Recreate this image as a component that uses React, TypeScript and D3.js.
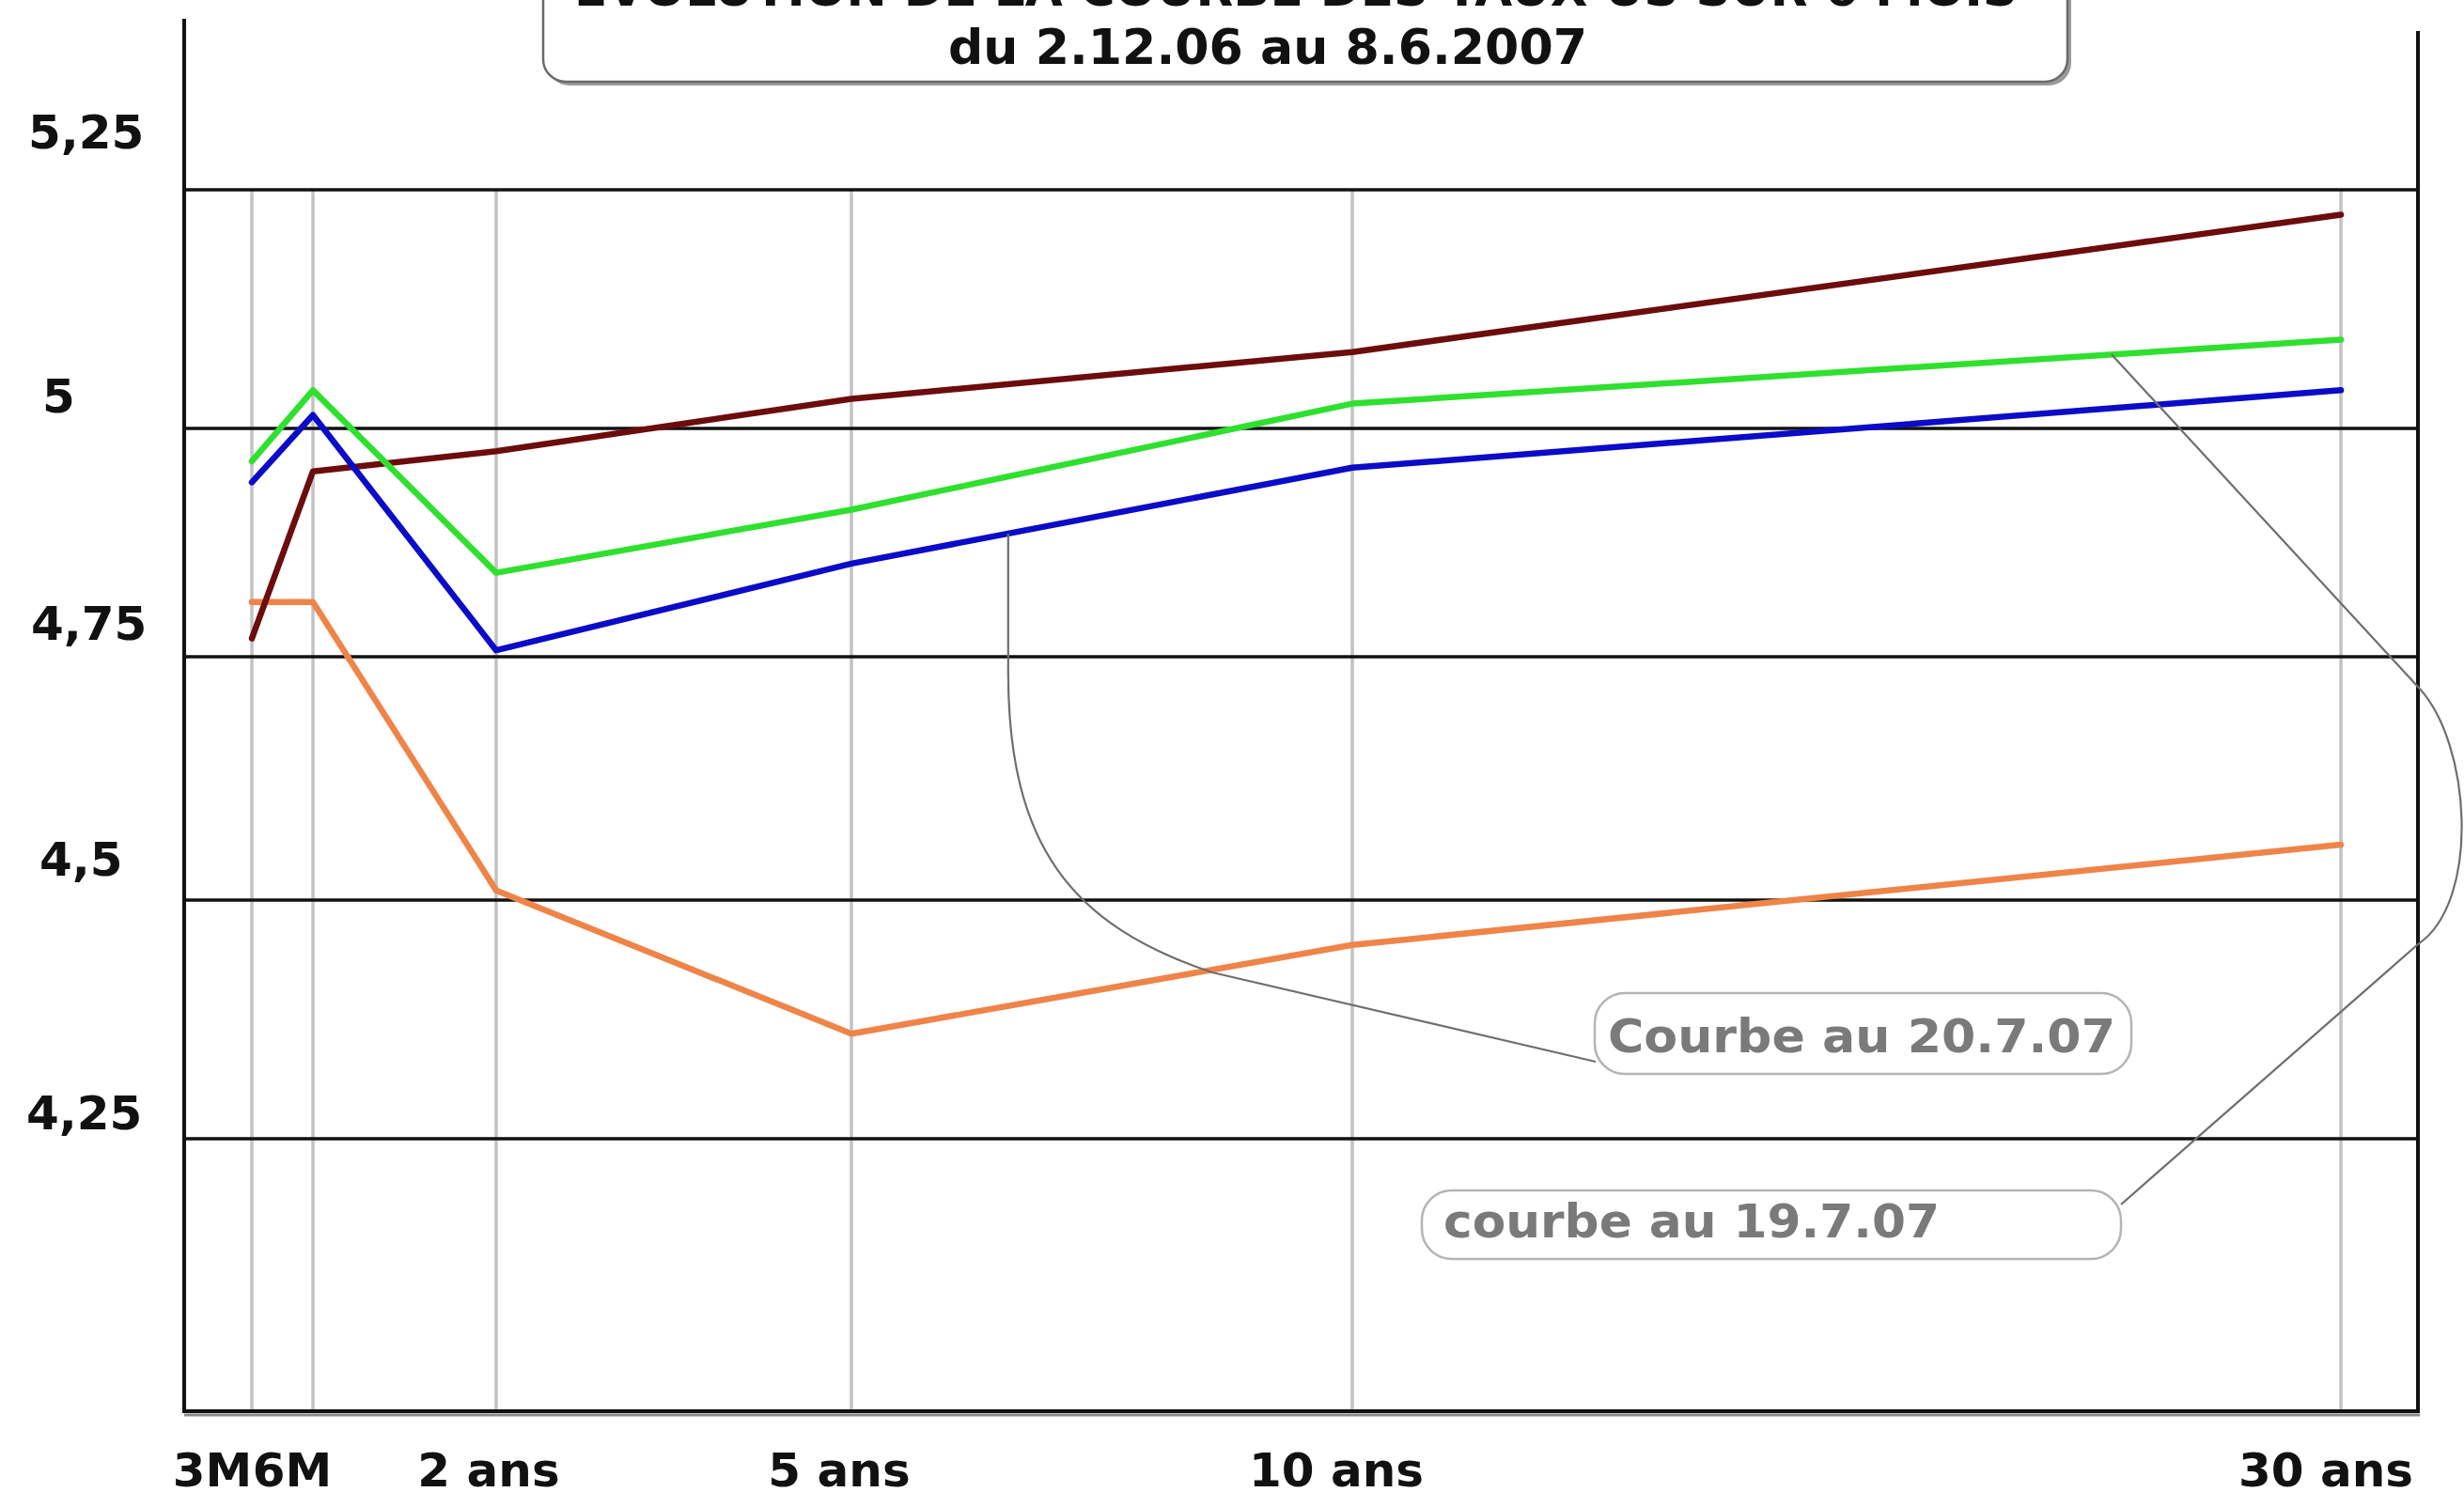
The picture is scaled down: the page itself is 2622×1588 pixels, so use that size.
import React from "react";
import * as d3 from "d3";

// ---------- data ----------
const maturityLabels = ["3M", "6M", "2 ans", "5 ans", "10 ans", "30 ans"];
const maturityYears = [0.25, 0.5, 2, 5, 10, 30];

const curve_2_12_06 = [4.81, 4.81, 4.51, 4.36, 4.453, 4.557];
const curve_8_6_07 = [4.77, 4.953, 4.975, 5.031, 5.08, 5.224];
const curve_19_7_07 = [4.964, 5.04, 4.842, 4.911, 5.026, 5.093];
const curve_20_7_07 = [4.941, 5.014, 4.757, 4.852, 4.957, 5.04];

const yTicks = [4.25, 4.5, 4.75, 5, 5.25];

const titleLine1 = "EVOLUTION DE LA COURBE DES TAUX US SUR 6 MOIS";
const titleLine2 = "du 2.12.06 au 8.6.2007";
const note20 = "Courbe au 20.7.07";
const note19 = "courbe au 19.7.07";

// ---------- layout ----------
const W = 2622;
const H = 1588;
const PLOT_LEFT = 196;
const PLOT_RIGHT = 2573;
const PLOT_BOTTOM = 1502;
const LEFT_AXIS_TOP = 20;
const RIGHT_AXIS_TOP = 33;
const X_STOPS = [268, 333, 528, 906, 1439, 2491];
const Y_STOPS = [1212, 958, 699, 456, 202];
const X_LABEL_DX = [-42, -22, -8, -13, -17, -16];
const Y_LABEL_X = [28, 42, 33, 45, 30];
const Y_LABEL_DY = [-10, -26, -18, -17, -44];
const FONT = "'DejaVu Sans', Verdana, sans-serif";

const series = [
  { values: curve_2_12_06, color: "#ef8448" },
  { values: curve_8_6_07, color: "#6c0c0c" },
  { values: curve_19_7_07, color: "#2fe02f" },
  { values: curve_20_7_07, color: "#0b0bc8" },
];

const x = d3.scaleLinear().domain(maturityYears).range(X_STOPS);
const y = d3.scaleLinear().domain(yTicks).range(Y_STOPS);
const frFormat = d3
  .formatLocale({ decimal: ",", thousands: " ", grouping: [3], currency: ["", " €"] })
  .format("~g");

const lineGen = d3
  .line<number>()
  .x((_, i) => x(maturityYears[i]))
  .y((d) => y(d));

function anchor(values: number[], seg: number, t: number): [number, number] {
  const x0 = x(maturityYears[seg]);
  const x1 = x(maturityYears[seg + 1]);
  const y0 = y(values[seg]);
  const y1 = y(values[seg + 1]);
  return [x0 + (x1 - x0) * t, y0 + (y1 - y0) * t];
}

export default function App() {
  const a20 = anchor(curve_20_7_07, 3, 0.313);
  const a19 = anchor(curve_19_7_07, 4, 0.768);

  const conn20 = `M${a20[0]},${a20[1]} L${a20[0]},715 C${a20[0]},900 1140,985 1290,1035 L1698,1130`;
  const conn19 = `M${a19[0]},${a19[1]} L2573,731 C2630,790 2640,960 2573,1005 L2257,1282`;

  return (
    <svg
      width={W}
      height={H}
      viewBox={`0 0 ${W} ${H}`}
      style={{ position: "absolute", left: 0, top: 0, display: "block", background: "#fff" }}
    >
      <rect x={0} y={0} width={W} height={H} fill="#fff" />

      {/* title box */}
      <rect x={582} y={-60} width={1622} height={151} rx={24} fill="#9a9a9a" />
      <rect x={578} y={-60} width={1622} height={147} rx={24} fill="#fff" stroke="#6a6a6a" strokeWidth={2.5} />
      <text
        x={1379}
        y={6}
        textAnchor="middle"
        fontFamily={FONT}
        fontWeight="bold"
        fontSize={52}
        fill="#111"
        textLength={1536}
        lengthAdjust="spacingAndGlyphs"
      >
        {titleLine1}
      </text>
      <text
        x={1349}
        y={68}
        textAnchor="middle"
        fontFamily={FONT}
        fontWeight="bold"
        fontSize={52}
        fill="#111"
        textLength={680}
        lengthAdjust="spacingAndGlyphs"
      >
        {titleLine2}
      </text>

      {/* vertical gray grid */}
      {maturityYears.map((m, i) => (
        <line
          key={"v" + i}
          x1={x(m)}
          x2={x(m)}
          y1={y(5.25)}
          y2={PLOT_BOTTOM}
          stroke="#c2c2c2"
          strokeWidth={3.5}
        />
      ))}

      {/* horizontal grid */}
      {yTicks.map((t) => (
        <line
          key={"h" + t}
          x1={PLOT_LEFT}
          x2={PLOT_RIGHT}
          y1={y(t)}
          y2={y(t)}
          stroke="#111"
          strokeWidth={3.5}
        />
      ))}

      {/* axes frame */}
      <line x1={PLOT_LEFT} x2={PLOT_LEFT} y1={LEFT_AXIS_TOP} y2={PLOT_BOTTOM + 2} stroke="#111" strokeWidth={4} />
      <line x1={PLOT_RIGHT} x2={PLOT_RIGHT} y1={RIGHT_AXIS_TOP} y2={PLOT_BOTTOM + 2} stroke="#111" strokeWidth={4} />
      <line x1={PLOT_LEFT} x2={PLOT_RIGHT + 2} y1={PLOT_BOTTOM + 4} y2={PLOT_BOTTOM + 4} stroke="#8a8a8a" strokeWidth={3} />
      <line x1={PLOT_LEFT} x2={PLOT_RIGHT + 2} y1={PLOT_BOTTOM} y2={PLOT_BOTTOM} stroke="#111" strokeWidth={4} />

      {/* y labels */}
      {yTicks.map((t, i) => (
        <text
          key={"yl" + t}
          x={Y_LABEL_X[i]}
          y={y(t) + Y_LABEL_DY[i]}
          fontFamily={FONT}
          fontWeight="bold"
          fontSize={50}
          fill="#111"
        >
          {frFormat(t)}
        </text>
      ))}

      {/* x labels */}
      {maturityLabels.map((lab, i) => (
        <text
          key={"xl" + i}
          x={x(maturityYears[i]) + X_LABEL_DX[i]}
          y={1582}
          textAnchor="middle"
          fontFamily={FONT}
          fontWeight="bold"
          fontSize={50}
          fill="#111"
        >
          {lab}
        </text>
      ))}

      {/* series */}
      {series.map((s, i) => (
        <path
          key={"s" + i}
          d={lineGen(s.values) || ""}
          fill="none"
          stroke={s.color}
          strokeWidth={6.5}
          strokeLinejoin="round"
          strokeLinecap="round"
        />
      ))}

      {/* connectors */}
      <path d={conn20} fill="none" stroke="#6e6e6e" strokeWidth={2.2} />
      <path d={conn19} fill="none" stroke="#6e6e6e" strokeWidth={2.2} />

      {/* annotation boxes */}
      <rect x={1697} y={1057} width={571} height={86} rx={32} fill="#fff" stroke="#b4b4b4" strokeWidth={2.5} />
      <text x={1711} y={1120} fontFamily={FONT} fontWeight="bold" fontSize={50} fill="#7a7a7a" textLength={540} lengthAdjust="spacingAndGlyphs">
        {note20}
      </text>
      <rect x={1513} y={1267} width={744} height={73} rx={32} fill="#fff" stroke="#b4b4b4" strokeWidth={2.5} />
      <text x={1536} y={1317} fontFamily={FONT} fontWeight="bold" fontSize={50} fill="#7a7a7a" textLength={528} lengthAdjust="spacingAndGlyphs">
        {note19}
      </text>
    </svg>
  );
}
